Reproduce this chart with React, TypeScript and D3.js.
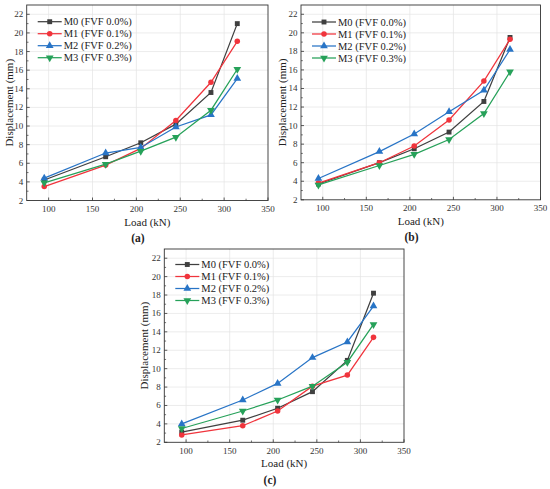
import * as d3 from "d3";

// loads applied (kN), shared by all panels
const loads = [95, 165, 205, 245, 285, 315];
const seriesNames = ["M0 (FVF 0.0%)", "M1 (FVF 0.1%)", "M2 (FVF 0.2%)", "M3 (FVF 0.3%)"];
const seriesColors = ["#3f3f3f", "#f0343c", "#2874c6", "#26a159"];
const xTicks = [100, 150, 200, 250, 300, 350];
const yTicks = [2, 4, 6, 8, 10, 12, 14, 16, 18, 20, 22];

// panel (a)
const aM0 = [4.2, 6.7, 8.2, 10.2, 13.6, 21.0];
const aM1 = [3.5, 5.8, 7.6, 10.6, 14.7, 19.1];
const aM2 = [4.4, 7.1, 7.7, 9.9, 11.2, 15.1];
const aM3 = [3.9, 5.9, 7.3, 8.8, 11.7, 16.1];

// panel (b)
const bM0 = [3.7, 6.0, 7.5, 9.3, 12.6, 19.5];
const bM1 = [3.8, 6.0, 7.8, 10.6, 14.8, 19.3];
const bM2 = [4.3, 7.2, 9.1, 11.5, 13.8, 18.2];
const bM3 = [3.6, 5.7, 6.9, 8.5, 11.3, 15.8];

// panel (c)
const cM0 = [3.1, 4.4, 5.7, 7.5, 10.9, 18.2];
const cM1 = [2.8, 3.8, 5.4, 8.1, 9.3, 13.4];
const cM2 = [4.0, 6.6, 8.4, 11.2, 12.9, 16.8];
const cM3 = [3.5, 5.4, 6.6, 8.1, 10.7, 14.8];

const font = '"Liberation Serif", "Times New Roman", serif';

const symbols = [
  d3.symbol().type(d3.symbolSquare).size(24)(),
  d3.symbol().type(d3.symbolCircle).size(24)(),
  d3.symbol().type(d3.symbolTriangle).size(26)(),
  d3.symbol().type(d3.symbolTriangle).size(26)(),
];

function Marker({ i, x, y }: { i: number; x: number; y: number }) {
  const rot = i === 3 ? " rotate(180)" : "";
  return (
    <path
      d={symbols[i] as string}
      transform={`translate(${x},${y})${rot}`}
      fill={seriesColors[i]}
    />
  );
}

interface PanelProps {
  left: number;
  right: number;
  top: number;
  bottom: number;
  series: number[][];
  tag: string;
  tagX: number;
  yLabelX: number;
  legendDy: number;
}

function Panel({ left, right, top, bottom, series, tag, tagX, yLabelX, legendDy }: PanelProps) {
  const x = d3.scaleLinear().domain([75, 350]).range([left, right]);
  const y = d3.scaleLinear().domain([2, 23]).range([bottom, top]);
  const line = d3
    .line<number>()
    .x((_, i) => x(loads[i]))
    .y((d) => y(d));

  const minorX = d3.range(125, 350, 50);
  const minorY = d3.range(3, 23, 2);
  const cx = (left + right) / 2;
  const cy = (top + bottom) / 2;

  return (
    <g>
      {/* grid */}
      {xTicks.slice(0, -1).map((t) => (
        <line key={"gx" + t} x1={x(t)} x2={x(t)} y1={top} y2={bottom} stroke="#e4e4e4" strokeWidth={0.7} />
      ))}
      {yTicks.slice(1).map((t) => (
        <line key={"gy" + t} x1={left} x2={right} y1={y(t)} y2={y(t)} stroke="#e4e4e4" strokeWidth={0.7} />
      ))}

      {/* frame */}
      <rect x={left} y={top} width={right - left} height={bottom - top} fill="none" stroke="#333" strokeWidth={0.9} />

      {/* ticks */}
      {xTicks.map((t) => (
        <line key={"tx" + t} x1={x(t)} x2={x(t)} y1={bottom} y2={bottom - 3} stroke="#333" strokeWidth={0.8} />
      ))}
      {minorX.map((t) => (
        <line key={"mx" + t} x1={x(t)} x2={x(t)} y1={bottom} y2={bottom - 1.8} stroke="#333" strokeWidth={0.7} />
      ))}
      {yTicks.map((t) => (
        <line key={"ty" + t} x1={left} x2={left + 3} y1={y(t)} y2={y(t)} stroke="#333" strokeWidth={0.8} />
      ))}
      {minorY.map((t) => (
        <line key={"my" + t} x1={left} x2={left + 1.8} y1={y(t)} y2={y(t)} stroke="#333" strokeWidth={0.7} />
      ))}

      {/* tick labels */}
      {xTicks.map((t) => (
        <text key={"lx" + t} x={x(t)} y={bottom + 11.5} textAnchor="middle" fontSize={9} fill="#333">
          {t}
        </text>
      ))}
      {yTicks.map((t) => (
        <text key={"ly" + t} x={left - 3.5} y={y(t) + 3} textAnchor="end" fontSize={9} fill="#333">
          {t}
        </text>
      ))}

      {/* axis titles */}
      <text x={cx} y={bottom + 25} textAnchor="middle" fontSize={11} fill="#222">
        Load (kN)
      </text>
      <text
        transform={`translate(${yLabelX},${cy}) rotate(-90)`}
        textAnchor="middle"
        dy="0.35em"
        fontSize={11}
        fill="#222"
      >
        Displacement (mm)
      </text>
      <text x={tagX} y={bottom + 41.5} textAnchor="middle" fontSize={11.5} fontWeight="bold" fill="#222">
        {tag}
      </text>

      {/* series */}
      {series.map((vals, i) => (
        <g key={"s" + i}>
          <path d={line(vals) as string} fill="none" stroke={seriesColors[i]} strokeWidth={1.25} />
          {vals.map((v, j) => (
            <Marker key={j} i={i} x={x(loads[j])} y={y(v)} />
          ))}
        </g>
      ))}

      {/* legend */}
      {seriesNames.map((name, i) => {
        const ly = top + legendDy + i * 12;
        const lx = left + 11;
        return (
          <g key={"lg" + i}>
            <line x1={lx} x2={lx + 24} y1={ly} y2={ly} stroke={seriesColors[i]} strokeWidth={1.25} />
            <Marker i={i} x={lx + 12} y={ly} />
            <text x={lx + 26} y={ly + 3.5} fontSize={10.5} fill="#222">
              {name}
            </text>
          </g>
        );
      })}
    </g>
  );
}

export default function App() {
  return (
    <svg
      width={550}
      height={489}
      style={{ position: "absolute", left: 0, top: 0, background: "#fff", fontFamily: font }}
    >
      <Panel
        left={26.7}
        right={268}
        top={5}
        bottom={200.5}
        series={[aM0, aM1, aM2, aM3]}
        tag="(a)"
        tagX={138}
        yLabelX={9}
        legendDy={16.7}
      />
      <Panel
        left={301}
        right={540.5}
        top={5}
        bottom={199.8}
        series={[bM0, bM1, bM2, bM3]}
        tag="(b)"
        tagX={411.5}
        yLabelX={282}
        legendDy={17}
      />
      <Panel
        left={164.3}
        right={404}
        top={249}
        bottom={442.3}
        series={[cM0, cM1, cM2, cM3]}
        tag="(c)"
        tagX={270}
        yLabelX={144}
        legendDy={15.5}
      />
    </svg>
  );
}
